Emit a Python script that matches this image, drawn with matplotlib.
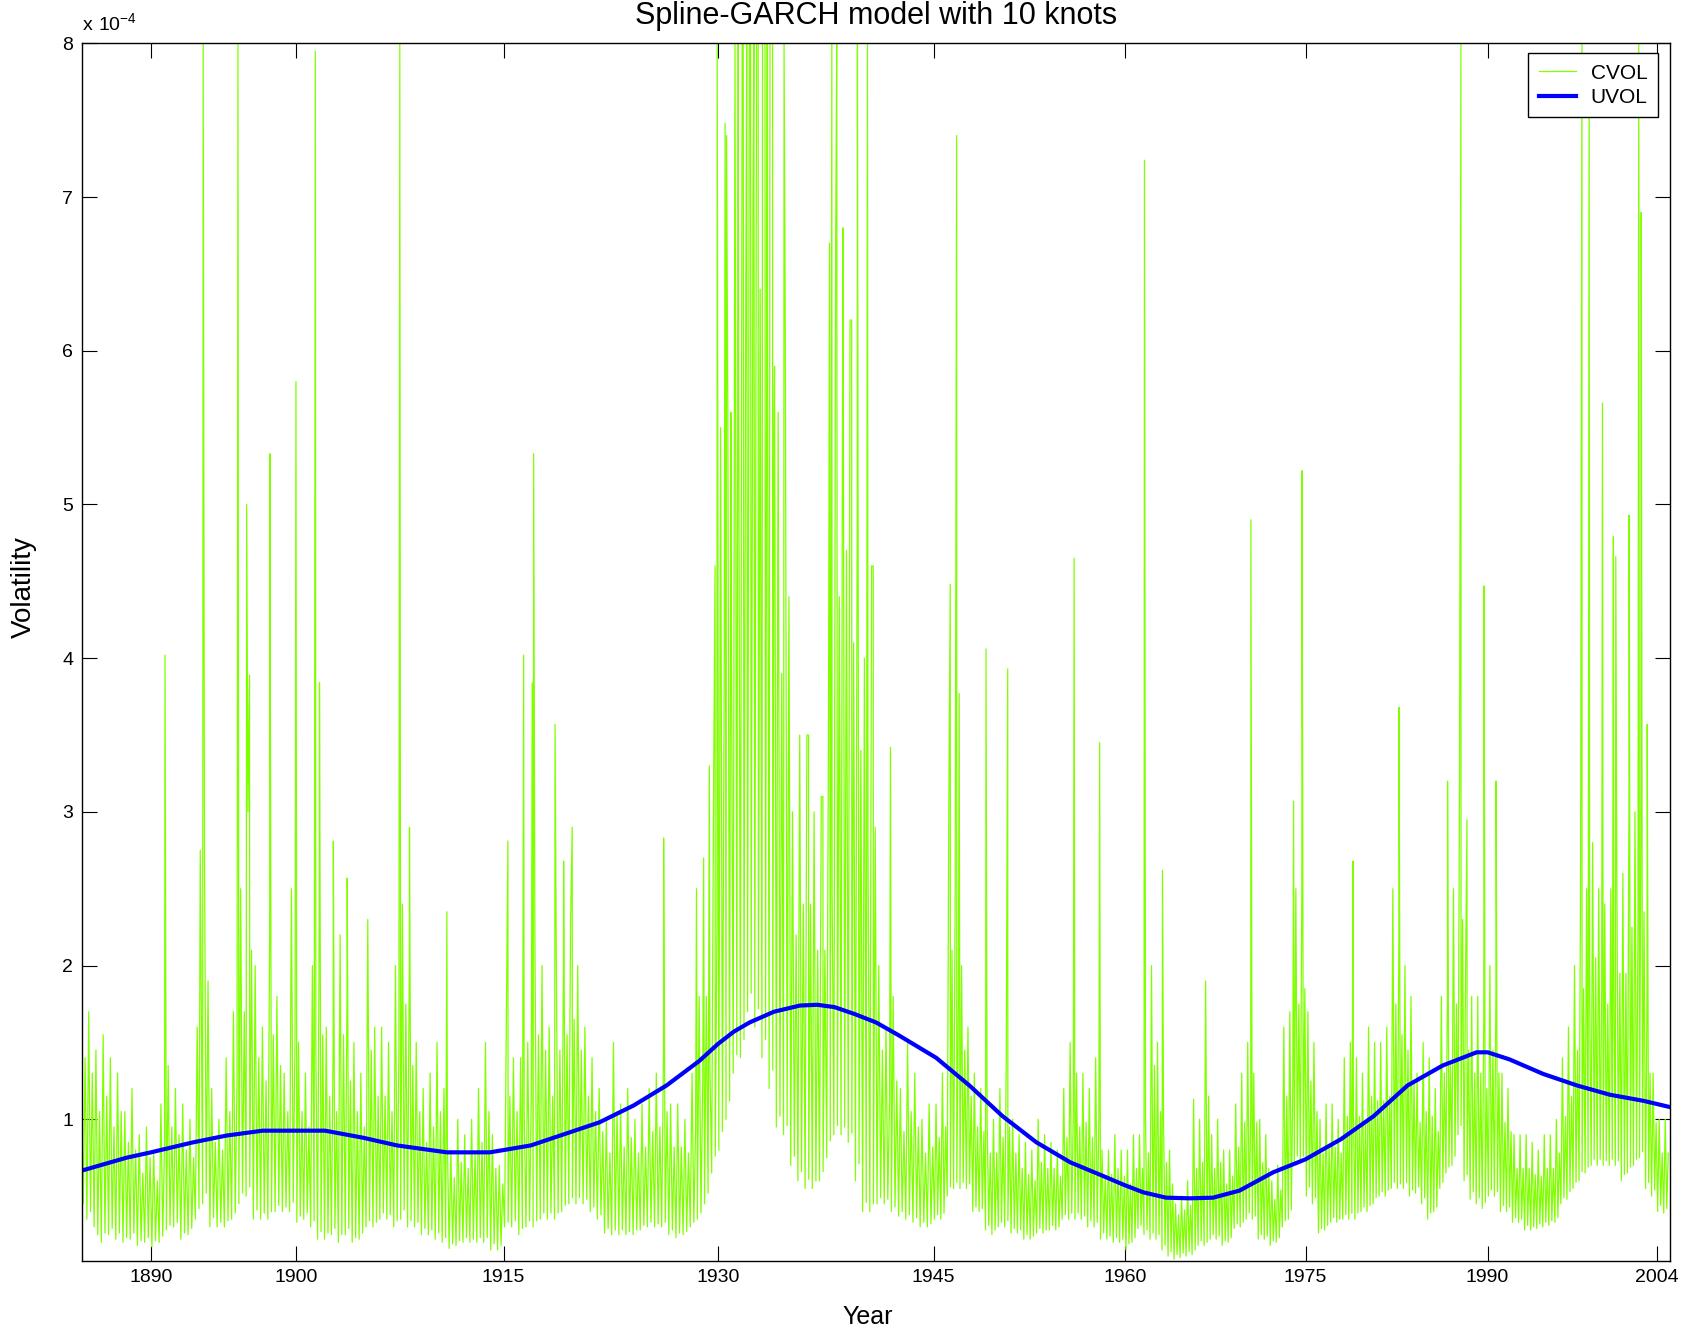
"""
Spline-GARCH volatility chart: conditional (CVOL) vs unconditional (UVOL).
Values are in units of 1e-4.
"""

import numpy as np
import matplotlib

matplotlib.use("Agg")
import matplotlib.pyplot as plt


###############################################################################
# Data
###############################################################################

# approximate trading-day index at the start of each labelled year
calendar_years = [1885.2, 1890, 1900, 1915, 1930, 1945, 1960, 1975, 1990, 2004, 2005.05]
calendar_obs = [0, 1440, 4453, 8769, 13222, 17705, 21686, 25435, 29217, 32735, 33000]

tick_years = [1890, 1900, 1915, 1930, 1945, 1960, 1975, 1990, 2004]
y_ticks = [1, 2, 3, 4, 5, 6, 7, 8]

# CVOL band: one low / high pair per quarter, 1885 Q1 ... 2004 Q4
cvol_low = [
    0.50, 0.45, 0.35, 0.40,  0.30, 0.25, 0.20, 0.26,   # 1885-86
    0.25, 0.29, 0.22, 0.26,  0.20, 0.23, 0.22, 0.26,   # 1887-88
    0.18, 0.21, 0.20, 0.23,  0.17, 0.21, 0.20, 0.24,   # 1889-90
    0.28, 0.31, 0.30, 0.33,  0.22, 0.26, 0.25, 0.29,   # 1891-92
    0.35, 0.42, 0.45, 0.52,  0.30, 0.36, 0.30, 0.33,   # 1893-94
    0.30, 0.34, 0.35, 0.39,  0.45, 0.52, 0.50, 0.56,   # 1895-96
    0.35, 0.41, 0.35, 0.39,  0.35, 0.40, 0.40, 0.44,   # 1897-98
    0.40, 0.43, 0.40, 0.46,  0.33, 0.37, 0.35, 0.39,   # 1899-1900
    0.30, 0.34, 0.22, 0.27,  0.22, 0.26, 0.25, 0.29,   # 1901-02
    0.20, 0.25, 0.25, 0.29,  0.20, 0.23, 0.22, 0.26,   # 1903-04
    0.30, 0.34, 0.30, 0.33,  0.35, 0.39, 0.35, 0.38,   # 1905-06
    0.30, 0.34, 0.35, 0.41,  0.30, 0.34, 0.30, 0.33,   # 1907-08
    0.25, 0.29, 0.25, 0.28,  0.22, 0.26, 0.20, 0.23,   # 1909-10
    0.16, 0.19, 0.18, 0.21,  0.20, 0.23, 0.20, 0.22,   # 1911-12
    0.20, 0.23, 0.20, 0.23,  0.15, 0.19, 0.15, 0.18,   # 1913-14
    0.30, 0.33, 0.30, 0.34,  0.25, 0.29, 0.30, 0.34,   # 1915-16
    0.30, 0.34, 0.35, 0.39,  0.35, 0.39, 0.35, 0.39,   # 1917-18
    0.40, 0.44, 0.45, 0.49,  0.45, 0.49, 0.45, 0.48,   # 1919-20
    0.40, 0.43, 0.35, 0.38,  0.26, 0.29, 0.25, 0.28,   # 1921-22
    0.25, 0.28, 0.25, 0.27,  0.25, 0.28, 0.28, 0.31,   # 1923-24
    0.30, 0.33, 0.30, 0.32,  0.30, 0.33, 0.25, 0.28,   # 1925-26
    0.23, 0.26, 0.25, 0.27,  0.30, 0.33, 0.35, 0.39,   # 1927-28
    0.45, 0.52, 0.65, 0.76,  0.80, 0.92, 1.00, 1.12,   # 1929-30
    1.30, 1.42, 1.40, 1.52,  1.70, 1.82, 1.60, 1.72,   # 1931-32
    1.40, 1.52, 1.20, 1.32,  0.95, 1.02, 0.90, 0.96,   # 1933-34
    0.70, 0.76, 0.60, 0.66,  0.55, 0.61, 0.55, 0.60,   # 1935-36
    0.60, 0.66, 0.75, 0.86,  0.90, 0.96, 0.90, 0.95,   # 1937-38
    0.85, 0.91, 0.60, 0.71,  0.40, 0.46, 0.40, 0.45,   # 1939-40
    0.45, 0.49, 0.45, 0.48,  0.40, 0.43, 0.37, 0.40,   # 1941-42
    0.35, 0.38, 0.33, 0.36,  0.30, 0.33, 0.30, 0.32,   # 1943-44
    0.35, 0.38, 0.35, 0.39,  0.50, 0.56, 0.55, 0.59,   # 1945-46
    0.55, 0.59, 0.55, 0.58,  0.40, 0.43, 0.40, 0.42,   # 1947-48
    0.28, 0.31, 0.25, 0.28,  0.30, 0.33, 0.30, 0.34,   # 1949-50
    0.26, 0.29, 0.26, 0.28,  0.22, 0.25, 0.22, 0.24,   # 1951-52
    0.26, 0.29, 0.26, 0.28,  0.28, 0.31, 0.28, 0.30,   # 1953-54
    0.35, 0.38, 0.35, 0.39,  0.35, 0.39, 0.35, 0.37,   # 1955-56
    0.30, 0.34, 0.30, 0.33,  0.22, 0.26, 0.22, 0.24,   # 1957-58
    0.20, 0.23, 0.20, 0.22,  0.15, 0.19, 0.20, 0.23,   # 1959-60
    0.29, 0.31, 0.25, 0.28,  0.22, 0.26, 0.22, 0.25,   # 1961-62
    0.15, 0.18, 0.11, 0.14,  0.09, 0.12, 0.10, 0.13,   # 1963-64
    0.11, 0.14, 0.12, 0.15,  0.18, 0.21, 0.18, 0.20,   # 1965-66
    0.22, 0.25, 0.22, 0.24,  0.18, 0.21, 0.20, 0.23,   # 1967-68
    0.29, 0.32, 0.30, 0.33,  0.35, 0.39, 0.35, 0.37,   # 1969-70
    0.22, 0.25, 0.22, 0.24,  0.18, 0.21, 0.20, 0.23,   # 1971-72
    0.30, 0.34, 0.35, 0.41,  0.70, 0.76, 0.72, 0.76,   # 1973-74
    0.50, 0.56, 0.45, 0.49,  0.26, 0.29, 0.28, 0.31,   # 1975-76
    0.33, 0.36, 0.33, 0.35,  0.35, 0.38, 0.35, 0.39,   # 1977-78
    0.35, 0.39, 0.40, 0.43,  0.40, 0.44, 0.45, 0.49,   # 1979-80
    0.50, 0.53, 0.50, 0.54,  0.55, 0.59, 0.55, 0.58,   # 1981-82
    0.55, 0.59, 0.50, 0.54,  0.52, 0.56, 0.45, 0.49,   # 1983-84
    0.35, 0.39, 0.40, 0.43,  0.55, 0.59, 0.65, 0.69,   # 1985-86
    0.70, 0.76, 0.90, 0.96,  0.60, 0.64, 0.48, 0.53,   # 1987-88
    0.45, 0.49, 0.42, 0.46,  0.50, 0.54, 0.50, 0.53,   # 1989-90
    0.40, 0.44, 0.40, 0.43,  0.33, 0.36, 0.33, 0.35,   # 1991-92
    0.28, 0.31, 0.28, 0.30,  0.29, 0.32, 0.30, 0.33,   # 1993-94
    0.31, 0.34, 0.33, 0.36,  0.45, 0.49, 0.48, 0.53,   # 1995-96
    0.55, 0.59, 0.60, 0.66,  0.65, 0.69, 0.70, 0.74,   # 1997-98
    0.70, 0.74, 0.70, 0.73,  0.70, 0.74, 0.70, 0.73,   # 1999-2000
    0.60, 0.64, 0.65, 0.69,  0.70, 0.74, 0.75, 0.79,   # 2001-02
    0.55, 0.59, 0.50, 0.54,  0.40, 0.44, 0.39, 0.42,   # 2003-04
]

cvol_high = [
    1.20, 1.40, 1.70, 1.30,  1.45, 1.05, 1.55, 1.15,   # 1885-86
    1.40, 0.95, 1.30, 1.05,  1.05, 0.85, 1.20, 0.80,   # 1887-88
    0.90, 0.65, 0.95, 0.75,  0.80, 0.60, 1.10, 0.85,   # 1889-90
    1.35, 0.95, 1.20, 0.90,  1.10, 0.80, 1.00, 0.75,   # 1891-92
    1.60, 2.20, 2.80, 1.90,  1.20, 0.85, 1.00, 0.80,   # 1893-94
    1.40, 1.05, 1.70, 1.25,  2.50, 1.70, 3.00, 2.10,   # 1895-96
    2.00, 1.40, 1.60, 1.25,  2.20, 1.55, 1.80, 1.35,   # 1897-98
    1.30, 1.05, 2.50, 1.55,  1.50, 1.05, 1.30, 0.95,   # 1899-1900
    2.00, 1.45, 2.40, 1.55,  1.60, 1.15, 1.50, 1.05,   # 1901-02
    2.20, 1.55, 1.80, 1.25,  1.50, 1.05, 1.30, 0.95,   # 1903-04
    2.30, 1.45, 1.60, 1.15,  1.60, 1.15, 1.50, 1.05,   # 1905-06
    2.00, 1.45, 2.40, 1.75,  2.00, 1.35, 1.50, 1.05,   # 1907-08
    1.20, 0.85, 1.30, 0.95,  1.50, 1.05, 1.20, 0.85,   # 1909-10
    0.80, 0.62, 1.00, 0.72,  0.90, 0.68, 1.00, 0.78,   # 1911-12
    1.20, 0.85, 1.50, 1.05,  0.90, 0.68, 0.70, 0.58,   # 1913-14
    1.60, 1.15, 1.40, 1.05,  1.40, 1.05, 1.50, 1.15,   # 1915-16
    2.20, 1.55, 2.00, 1.45,  1.60, 1.15, 2.00, 1.45,   # 1917-18
    2.00, 1.55, 2.30, 1.65,  2.00, 1.45, 1.60, 1.15,   # 1919-20
    1.40, 1.05, 1.20, 0.92,  1.00, 0.78, 1.50, 1.05,   # 1921-22
    1.10, 0.82, 1.20, 0.88,  1.00, 0.78, 1.10, 0.82,   # 1923-24
    1.20, 0.92, 1.30, 0.95,  1.40, 1.05, 1.10, 0.82,   # 1925-26
    1.10, 0.82, 1.00, 0.78,  1.30, 0.95, 1.80, 1.25,   # 1927-28
    1.80, 1.35, 3.00, 2.30,  5.50, 3.90, 5.60, 4.10,   # 1929-30
    8.00, 5.90, 8.00, 6.40,  8.00, 6.90, 8.00, 6.40,   # 1931-32
    8.00, 6.40, 8.00, 5.90,  5.60, 3.90, 6.00, 4.40,   # 1933-34
    3.00, 2.20, 3.50, 2.40,  3.50, 2.40, 3.00, 2.10,   # 1935-36
    3.10, 2.10, 3.50, 2.50,  6.70, 4.40, 6.80, 4.70,   # 1937-38
    6.20, 4.10, 5.00, 3.40,  4.00, 2.70, 4.60, 2.90,   # 1939-40
    2.00, 1.45, 1.60, 1.15,  1.80, 1.25, 1.20, 0.92,   # 1941-42
    1.50, 1.05, 1.30, 0.95,  1.00, 0.78, 1.10, 0.82,   # 1943-44
    1.10, 0.88, 1.30, 0.95,  3.00, 2.10, 2.50, 1.75,   # 1945-46
    2.00, 1.45, 1.60, 1.15,  1.30, 0.95, 1.20, 0.92,   # 1947-48
    1.00, 0.78, 1.00, 0.78,  1.20, 0.88, 1.40, 0.95,   # 1949-50
    1.00, 0.78, 0.90, 0.68,  0.85, 0.64, 0.80, 0.60,   # 1951-52
    1.00, 0.72, 0.90, 0.68,  0.85, 0.68, 0.80, 0.63,   # 1953-54
    1.20, 0.88, 1.50, 1.05,  1.30, 0.95, 1.30, 0.98,   # 1955-56
    1.20, 0.88, 1.40, 0.98,  0.80, 0.63, 0.80, 0.64,   # 1957-58
    0.90, 0.68, 0.80, 0.63,  0.80, 0.58, 0.90, 0.68,   # 1959-60
    0.90, 0.68, 1.00, 0.78,  2.00, 1.35, 1.50, 1.05,   # 1961-62
    1.00, 0.72, 0.80, 0.58,  0.45, 0.38, 0.50, 0.41,   # 1963-64
    0.60, 0.44, 1.13, 0.68,  1.00, 0.72, 1.90, 1.15,   # 1965-66
    0.90, 0.68, 1.00, 0.72,  0.80, 0.58, 0.80, 0.63,   # 1967-68
    1.10, 0.82, 1.30, 0.98,  1.50, 1.05, 1.30, 0.98,   # 1969-70
    1.00, 0.72, 0.90, 0.68,  0.60, 0.48, 0.70, 0.54,   # 1971-72
    1.60, 1.15, 1.70, 1.25,  2.50, 1.75, 2.50, 1.85,   # 1973-74
    1.70, 1.25, 1.50, 1.05,  1.00, 0.78, 1.10, 0.82,   # 1975-76
    1.10, 0.82, 1.00, 0.78,  1.40, 1.02, 1.50, 1.05,   # 1977-78
    1.40, 1.02, 1.30, 0.98,  1.60, 1.15, 1.50, 1.12,   # 1979-80
    1.50, 1.12, 1.60, 1.15,  2.50, 1.75, 2.20, 1.55,   # 1981-82
    2.00, 1.45, 1.80, 1.25,  1.30, 0.98, 1.50, 1.05,   # 1983-84
    1.40, 1.02, 1.20, 0.92,  1.80, 1.30, 1.80, 1.35,   # 1985-86
    2.50, 1.75, 3.20, 2.30,  2.00, 1.45, 1.80, 1.30,   # 1987-88
    1.80, 1.30, 1.70, 1.20,  2.00, 1.45, 1.80, 1.30,   # 1989-90
    1.30, 0.98, 1.20, 0.92,  0.90, 0.68, 0.90, 0.68,   # 1991-92
    0.90, 0.68, 0.85, 0.64,  0.80, 0.63, 0.90, 0.68,   # 1993-94
    0.90, 0.68, 1.00, 0.78,  1.40, 1.02, 1.60, 1.15,   # 1995-96
    2.00, 1.45, 2.50, 1.85,  2.50, 1.85, 2.80, 2.05,   # 1997-98
    2.50, 1.85, 2.40, 1.75,  2.50, 1.85, 2.60, 1.95,   # 1999-2000
    2.60, 1.95, 3.00, 2.25,  3.00, 2.25, 3.20, 2.35,   # 2001-02
    1.80, 1.30, 1.30, 0.98,  1.00, 0.78, 1.00, 0.78,   # 2003-04
]

# isolated CVOL spikes
spike_years = [
    1890.97, 1893.4, 1893.6, 1896.0, 1896.6, 1896.8, 1898.2, 1900.0, 1901.4,
    1901.7, 1902.7, 1903.7, 1907.5, 1908.2, 1910.9, 1915.3, 1916.4, 1917.0,
    1917.1, 1918.6, 1919.2, 1919.8, 1926.2, 1928.5, 1929.0, 1929.4, 1929.8,
    1929.95, 1930.5, 1930.6, 1930.9, 1931.41, 1931.76, 1932.0, 1932.27,
    1932.5, 1932.8, 1933.1, 1933.27, 1933.43, 1933.62, 1933.8, 1933.9,
    1934.6, 1936.3, 1937.3, 1937.76, 1937.92, 1938.26, 1938.7, 1939.3,
    1939.7, 1940.4, 1940.8, 1942.0, 1946.3, 1946.8, 1947.0, 1949.1, 1950.8,
    1956.0, 1958.0, 1961.6, 1963.1, 1970.45, 1974.0, 1974.7, 1978.9, 1982.7,
    1986.7, 1987.8, 1988.3, 1989.7, 1990.7, 1997.8, 1998.4, 1999.5, 2000.4,
    2000.6, 2001.7, 2002.5, 2002.7, 2003.2,
]
spike_values = [
    4.02, 2.75, 8.0, 8.0, 5.0, 3.89, 5.33, 5.8, 7.95,
    3.84, 2.81, 2.57, 8.0, 2.9, 2.35, 2.81, 4.02, 3.84,
    5.33, 3.57, 2.68, 2.9, 2.83, 2.5, 2.7, 3.3, 4.6,
    8.0, 7.48, 7.4, 5.6, 8.0, 8.0, 8.0, 8.0,
    8.0, 8.0, 8.0, 8.0, 8.0, 8.0, 8.0, 5.6,
    8.0, 3.5, 3.1, 6.7, 8.0, 8.0, 6.8, 6.2,
    8.0, 8.0, 4.6, 3.42, 4.48, 7.4, 3.77, 4.06, 3.93,
    4.65, 3.45, 7.24, 2.62, 4.9, 3.07, 5.22, 2.68, 3.68,
    3.2, 8.0, 2.95, 4.47, 3.2, 8.0, 7.9, 5.66, 4.79,
    4.66, 4.93, 8.0, 6.9, 3.57,
]

# UVOL spline, read at points along the curve
uvol_years = [
    1885.2, 1888.3, 1890.0, 1892.9, 1895.2, 1897.7, 1900.0, 1902.1, 1904.85,
    1907.3, 1909.7, 1910.9, 1914.0, 1915.0, 1916.9, 1919.3, 1921.7, 1924.1,
    1926.4, 1928.7, 1930.0, 1931.1, 1932.2, 1933.9, 1935.7, 1936.9, 1938.1,
    1939.5, 1941.0, 1942.6, 1945.2, 1947.8, 1950.4, 1953.05, 1955.7, 1958.3,
    1960.0, 1961.5, 1963.4, 1965.4, 1967.3, 1969.5, 1972.3, 1975.0, 1977.9,
    1980.6, 1983.4, 1986.3, 1989.1, 1990.0, 1991.8, 1994.6, 1997.4, 2000.1,
    2002.9, 2005.05,
]
uvol_values = [
    0.666, 0.75, 0.785, 0.85, 0.894, 0.926, 0.926, 0.926, 0.88,
    0.83, 0.80, 0.785, 0.785, 0.80, 0.83, 0.905, 0.98, 1.09,
    1.22, 1.38, 1.49, 1.57, 1.63, 1.70, 1.74, 1.745, 1.73,
    1.685, 1.63, 1.545, 1.40, 1.22, 1.02, 0.85, 0.72, 0.63,
    0.57, 0.525, 0.49, 0.486, 0.49, 0.536, 0.655, 0.74, 0.87,
    1.02, 1.22, 1.35, 1.436, 1.436, 1.39, 1.295, 1.22, 1.16,
    1.12, 1.08,
]


###############################################################################
# Helpers
###############################################################################

def year_to_obs(years):
    """Calendar year -> trading-day index (piecewise linear)."""
    xp = np.concatenate([[1700.0], calendar_years, [2200.0]])
    fp = np.concatenate([[-55560.0], calendar_obs, [82140.0]])
    return np.interp(years, xp, fp)


def obs_to_year(obs):
    xp = np.concatenate([[-55560.0], calendar_obs, [82140.0]])
    fp = np.concatenate([[1700.0], calendar_years, [2200.0]])
    return np.interp(obs, xp, fp)


def cvol_series():
    """Zig-zag low/high band with the spikes merged in, sorted by time."""
    quarter = 1885.0 + 0.25 * np.arange(len(cvol_low))
    x = np.column_stack([quarter + 0.0625, quarter + 0.1875]).ravel()
    y = np.column_stack([cvol_low, cvol_high]).ravel()
    x = np.concatenate([x, spike_years])
    y = np.concatenate([y, spike_values])
    order = np.argsort(x, kind="stable")
    return x[order], y[order]


###############################################################################
# Chart
###############################################################################

def volatility_chart():

    plt.rcParams["font.family"] = ["Liberation Sans", "DejaVu Sans"]

    fig = plt.figure(figsize=(16.98, 13.3), dpi=100)
    ax = fig.add_axes([0.0481, 0.0521, 0.9352, 0.9153])

    ax.set_xscale("function", functions=(year_to_obs, obs_to_year))

    cx, cy = cvol_series()
    ax.plot(cx, cy, color="#80ff00", linewidth=0.9, label="CVOL")
    ax.plot(uvol_years, uvol_values, color="#0000ff", linewidth=3.0, label="UVOL")

    ax.set_xlim(1885.2, 2005.05)
    ax.set_ylim(0.08, 8)

    ax.set_xticks(tick_years)
    ax.set_xticklabels([str(t) for t in tick_years])
    ax.set_yticks(y_ticks)
    ax.set_yticklabels([str(t) for t in y_ticks])
    ax.minorticks_off()

    ax.tick_params(direction="in", length=11, width=0.8, labelsize=14,
                   top=True, right=True, pad=6)
    for spine in ax.spines.values():
        spine.set_linewidth(1.0)

    ax.set_title("Spline-GARCH model with 10 knots", fontsize=22, pad=14)
    ax.set_xlabel("Year", fontsize=18)
    ax.set_ylabel("Volatility", fontsize=20)
    ax.xaxis.set_label_coords(0.495, -0.036)
    ax.yaxis.set_label_coords(-0.028, 0.553)

    ax.text(0.0, 1.008, r"$\mathregular{x\ 10^{-4}}$", transform=ax.transAxes,
            ha="left", va="bottom", fontsize=14)

    leg = ax.legend(loc="upper right", bbox_to_anchor=(0.9926, 0.9918),
                    borderaxespad=0, fontsize=15, frameon=True, fancybox=False,
                    edgecolor="black", framealpha=1, handlelength=1.8,
                    handletextpad=0.7, labelspacing=0.25, borderpad=0.5)
    leg.get_frame().set_linewidth(1.0)

    return fig


def save_chart(fig, output_path):
    fig.savefig(output_path, dpi=100)
    plt.close(fig)


save_chart(volatility_chart(), "out.png")
